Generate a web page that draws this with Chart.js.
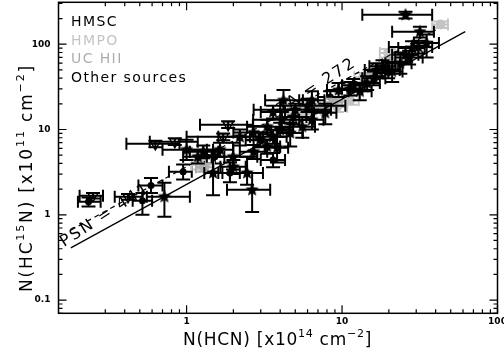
<!DOCTYPE html>
<html>
<head>
<meta charset="utf-8">
<script src="https://cdn.jsdelivr.net/npm/chart.js@4.4.1/dist/chart.umd.min.js"></script>
<style>
html, body { margin: 0; padding: 0; background: #fff; }
canvas { display: block; }
</style>
</head>
<body>
<canvas id="chart" width="504" height="358"></canvas>
<script>
// DATA: x = N(HCN) [1e14 cm-2], y = N(HC15N) [1e11 cm-2], with error bar limits
const hmsc = [
    { x: 0.234, y: 1.42, xmin: 0.20, xmax: 0.28, ymin: 1.25, ymax: 1.6 },
    { x: 0.52, y: 1.46, xmin: 0.45, xmax: 0.60, ymin: 1.0, ymax: 1.8 },
    { x: 0.59, y: 2.2, xmin: 0.49, xmax: 0.70, ymin: 1.8, ymax: 2.7 },
    { x: 0.95, y: 3.2, xmin: 0.77, xmax: 1.08, ymin: 2.6, ymax: 3.9 },
    { x: 1.9, y: 3.1, xmin: 1.6, xmax: 2.2, ymin: 2.4, ymax: 4.1 },
    { x: 1.52, y: 4.8, xmin: 1.3, xmax: 1.75, ymin: 4.0, ymax: 5.6 },
    { x: 3.6, y: 4.4, xmin: 3.0, xmax: 4.3, ymin: 3.6, ymax: 5.3 },
    { x: 8.4, y: 24, xmin: 7.0, xmax: 10, ymin: 20, ymax: 28 },
];
const hmpo = [
    { x: 1.22, y: 3.85, xmin: 1.08, xmax: 1.48, ymin: 3.4, ymax: 4.4 },
    { x: 4.9, y: 15.5, xmin: 4.1, xmax: 5.8, ymin: 13.5, ymax: 17.5 },
    { x: 5.4, y: 16, xmin: 4.5, xmax: 6.5, ymin: 14, ymax: 18 },
    { x: 6.25, y: 17, xmin: 5.4, xmax: 7.3, ymin: 15, ymax: 19.5 },
    { x: 9.3, y: 18.5, xmin: 7.2, xmax: 10.8, ymin: 16, ymax: 21 },
    { x: 11.3, y: 22, xmin: 10, xmax: 12.8, ymin: 19.5, ymax: 25 },
    { x: 13.7, y: 41, xmin: 12, xmax: 15.5, ymin: 36, ymax: 46 },
    { x: 19.8, y: 79, xmin: 17.5, xmax: 22, ymin: 70, ymax: 88 },
    { x: 43, y: 170, xmin: 38, xmax: 48, ymin: 155, ymax: 185 },
];
const ucHii = [
    { x: 1.3, y: 3.6, xmin: 1.15, xmax: 1.5, ymin: 3.2, ymax: 4.0 },
    { x: 7.25, y: 18, xmin: 6.3, xmax: 8.3, ymin: 16, ymax: 20 },
    { x: 8.8, y: 21, xmin: 7.8, xmax: 10, ymin: 19, ymax: 23 },
    { x: 12.8, y: 31.5, xmin: 11.2, xmax: 14.6, ymin: 28, ymax: 35 },
    { x: 16, y: 45, xmin: 14, xmax: 18.5, ymin: 40, ymax: 51 },
    { x: 21.4, y: 62, xmin: 19, xmax: 24, ymin: 55, ymax: 70 },
];
const otherStars = [
    { x: 0.72, y: 1.63, xmin: 0.555, xmax: 1.05, ymin: 0.95, ymax: 2.37 },
    { x: 1.48, y: 3.1, xmin: 1.3, xmax: 1.7, ymin: 1.7, ymax: 5.0 },
    { x: 1.0, y: 5.8, xmin: 0.70, xmax: 1.48, ymin: 4.4, ymax: 7.6 },
    { x: 1.18, y: 4.8, xmin: 0.95, xmax: 1.45, ymin: 4.0, ymax: 5.8 },
    { x: 1.28, y: 5.5, xmin: 1.05, xmax: 1.6, ymin: 4.6, ymax: 6.5 },
    { x: 1.64, y: 5.8, xmin: 1.35, xmax: 2.0, ymin: 4.8, ymax: 7.0 },
    { x: 1.99, y: 4.8, xmin: 1.35, xmax: 2.85, ymin: 3.4, ymax: 7.0 },
    { x: 2.0, y: 3.65, xmin: 1.65, xmax: 2.4, ymin: 3.0, ymax: 4.4 },
    { x: 2.45, y: 3.1, xmin: 1.9, xmax: 3.1, ymin: 2.25, ymax: 4.8 },
    { x: 2.64, y: 1.96, xmin: 1.82, xmax: 3.45, ymin: 1.08, ymax: 3.1 },
    { x: 2.2, y: 8.2, xmin: 1.6, xmax: 3.1, ymin: 6.5, ymax: 10 },
    { x: 2.69, y: 9.2, xmin: 2.0, xmax: 3.5, ymin: 7.5, ymax: 11 },
    { x: 2.7, y: 5.5, xmin: 2.2, xmax: 3.3, ymin: 4.5, ymax: 6.6 },
    { x: 2.97, y: 7.6, xmin: 2.4, xmax: 3.7, ymin: 6.2, ymax: 9.2 },
    { x: 3.3, y: 10.8, xmin: 2.45, xmax: 4.85, ymin: 8.8, ymax: 13 },
    { x: 3.3, y: 6.3, xmin: 2.7, xmax: 4.0, ymin: 5.2, ymax: 7.6 },
    { x: 3.82, y: 6.1, xmin: 3.2, xmax: 4.5, ymin: 4.1, ymax: 8.2 },
    { x: 3.6, y: 8.2, xmin: 2.9, xmax: 4.4, ymin: 6.8, ymax: 9.8 },
    { x: 4.0, y: 9.9, xmin: 3.3, xmax: 4.8, ymin: 8.2, ymax: 12 },
    { x: 4.1, y: 13, xmin: 2.68, xmax: 6.5, ymin: 10.5, ymax: 16 },
    { x: 3.6, y: 16, xmin: 3.0, xmax: 4.3, ymin: 13.5, ymax: 19 },
    { x: 4.2, y: 22, xmin: 3.2, xmax: 5.6, ymin: 17, ymax: 29 },
    { x: 4.64, y: 9.1, xmin: 3.8, xmax: 5.6, ymin: 6.3, ymax: 12 },
    { x: 4.85, y: 14, xmin: 4.0, xmax: 5.9, ymin: 11.5, ymax: 17 },
    { x: 5.0, y: 17, xmin: 2.7, xmax: 8.5, ymin: 14, ymax: 20 },
    { x: 5.55, y: 10.8, xmin: 4.6, xmax: 6.7, ymin: 8, ymax: 14 },
    { x: 6.0, y: 19, xmin: 4.0, xmax: 10.5, ymin: 16, ymax: 23 },
    { x: 6.4, y: 13, xmin: 5.3, xmax: 7.6, ymin: 10, ymax: 16.5 },
    { x: 6.4, y: 22, xmin: 5.3, xmax: 7.7, ymin: 17, ymax: 28 },
    { x: 7.8, y: 15.7, xmin: 6.6, xmax: 9.2, ymin: 11.5, ymax: 20 },
    { x: 9.5, y: 29, xmin: 8, xmax: 11.3, ymin: 24, ymax: 35 },
    { x: 11.3, y: 30, xmin: 9.5, xmax: 13.5, ymin: 25, ymax: 36 },
    { x: 11.8, y: 33, xmin: 10, xmax: 14, ymin: 28, ymax: 39 },
    { x: 13, y: 28, xmin: 11, xmax: 15.5, ymin: 22, ymax: 34 },
    { x: 14.5, y: 35, xmin: 12, xmax: 17.5, ymin: 29, ymax: 42 },
    { x: 16, y: 40, xmin: 13.5, xmax: 19, ymin: 33, ymax: 48 },
    { x: 16.8, y: 50, xmin: 14, xmax: 20, ymin: 42, ymax: 60 },
    { x: 18.2, y: 55, xmin: 15, xmax: 22, ymin: 46, ymax: 65 },
    { x: 19.8, y: 50, xmin: 16.5, xmax: 23.5, ymin: 40, ymax: 62 },
    { x: 21, y: 48, xmin: 18, xmax: 24.5, ymin: 36, ymax: 60 },
    { x: 23.7, y: 60, xmin: 19, xmax: 28, ymin: 45, ymax: 80 },
    { x: 25.6, y: 75, xmin: 21, xmax: 31, ymin: 62, ymax: 90 },
    { x: 27, y: 70, xmin: 22, xmax: 33, ymin: 58, ymax: 84 },
    { x: 28.2, y: 90, xmin: 23, xmax: 34, ymin: 75, ymax: 108 },
    { x: 31, y: 93, xmin: 20, xmax: 38, ymin: 78, ymax: 110 },
    { x: 35, y: 103, xmin: 29, xmax: 42, ymin: 70, ymax: 130 },
    { x: 31.7, y: 140, xmin: 21, xmax: 39, ymin: 120, ymax: 160 },
    { x: 25.6, y: 221, xmin: 13.5, xmax: 38, ymin: 200, ymax: 240 },
];
const otherLimits = [
    { x: 0.25, y: 1.67, xmin: 0.205, xmax: 0.29, ymin: 1.55, ymax: 1.8 },
    { x: 0.42, y: 1.63, xmin: 0.345, xmax: 0.52, ymin: 1.5, ymax: 1.75 },
    { x: 0.63, y: 6.8, xmin: 0.41, xmax: 0.90, ymin: 6.2, ymax: 7.4 },
    { x: 0.84, y: 7.2, xmin: 0.58, xmax: 1.18, ymin: 6.6, ymax: 7.9 },
    { x: 1.72, y: 8.2, xmin: 1.0, xmax: 2.56, ymin: 7.5, ymax: 9.0 },
    { x: 1.85, y: 11.4, xmin: 1.22, xmax: 2.67, ymin: 10.4, ymax: 12.5 },
];
// reference ratio lines (end points)
const psnLineX = [0.18, 62];
const psnLineY = [0.41, 140.6];
const taLineX = [0.18, 40];
const taLineY = [0.66, 147];

const xTickLabels = [1, 10, 100];
const yTickLabels = [0.1, 1, 10, 100];

const legendItems = [
    { text: "HMSC", color: "#000000" },
    { text: "HMPO", color: "#c4c4c4" },
    { text: "UC HII", color: "#adadad" },
    { text: "Other sources", color: "#000000" },
];

// filled star marker
function makeStar(r, color) {
    const c = document.createElement("canvas");
    c.width = c.height = 2 * r + 2;
    const g = c.getContext("2d");
    g.beginPath();
    for (let i = 0; i < 10; i++) {
        const a = -Math.PI / 2 + (i * Math.PI) / 5;
        const rr = i % 2 ? r * 0.45 : r;
        g.lineTo(r + 1 + rr * Math.cos(a), r + 1 + rr * Math.sin(a));
    }
    g.closePath();
    g.fillStyle = color;
    g.fill();
    return c;
}
const starBlack = makeStar(7, "#000");

// draws text with superscript pieces, stretched to a target width
function drawRich(ctx, parts, x, y, size, target) {
    const sup = size * 0.65;
    const n = parts.reduce((s, p) => s + p[0].length, 0);
    ctx.letterSpacing = "0px";
    let w = 0;
    parts.forEach(p => {
        ctx.font = (p[1] ? sup : size) + "px 'DejaVu Sans'";
        w += ctx.measureText(p[0]).width;
    });
    const ls = target ? (target - w) / n : 0;
    ctx.letterSpacing = ls + "px";
    let cx = x - (w + ls * n) / 2;
    parts.forEach(p => {
        ctx.font = (p[1] ? sup : size) + "px 'DejaVu Sans'";
        ctx.fillText(p[0], cx, p[1] ? y - size * 0.45 : y);
        cx += ctx.measureText(p[0]).width;
    });
    ctx.letterSpacing = "0px";
}

// error bars drawn right before each dataset's markers
const errorBars = {
    id: "errorBars",
    beforeDatasetDraw(chart, args) {
        const ds = chart.data.datasets[args.index];
        if (!ds.barColor) return;
        const { ctx, chartArea: a, scales: { x, y } } = chart;
        ctx.save();
        ctx.beginPath();
        ctx.rect(a.left, a.top, a.width, a.height);
        ctx.clip();
        ctx.strokeStyle = ds.barColor;
        ctx.lineWidth = 2;
        ds.data.forEach(p => {
            const px = x.getPixelForValue(p.x), py = y.getPixelForValue(p.y);
            const x0 = x.getPixelForValue(p.xmin), x1 = x.getPixelForValue(p.xmax);
            const y0 = y.getPixelForValue(p.ymin), y1 = y.getPixelForValue(p.ymax);
            ctx.beginPath();
            ctx.moveTo(x0, py); ctx.lineTo(x1, py);
            ctx.moveTo(x0, py - 6); ctx.lineTo(x0, py + 6);
            ctx.moveTo(x1, py - 6); ctx.lineTo(x1, py + 6);
            ctx.moveTo(px, y0); ctx.lineTo(px, y1);
            ctx.moveTo(px - 7, y0); ctx.lineTo(px + 7, y0);
            ctx.moveTo(px - 7, y1); ctx.lineTo(px + 7, y1);
            ctx.stroke();
        });
        ctx.restore();
    },
};

// line labels, legend text and axis titles
const texts = {
    id: "texts",
    beforeDatasetsDraw(chart) {
        const { ctx } = chart;
        ctx.save();
        ctx.fillStyle = "#000";
        ctx.font = "16px 'DejaVu Sans'";
        ctx.letterSpacing = "2px";
        ctx.translate(64, 247);
        ctx.rotate((-33 * Math.PI) / 180);
        ctx.fillText("PSN = 441", 0, 0);
        ctx.restore();
        ctx.save();
        ctx.fillStyle = "#000";
        ctx.font = "16px 'DejaVu Sans'";
        ctx.letterSpacing = "2px";
        ctx.translate(282, 114);
        ctx.rotate((-33 * Math.PI) / 180);
        ctx.fillText("TA = 272", 0, 0);
        ctx.restore();
    },
    afterDraw(chart) {
        const { ctx } = chart;
        ctx.save();
        ctx.textBaseline = "alphabetic";
        ctx.font = "14px 'DejaVu Sans'";
        ctx.letterSpacing = "1.4px";
        legendItems.forEach((it, i) => {
            ctx.fillStyle = it.color;
            ctx.fillText(it.text, 71, 26 + i * 18.5);
        });
        ctx.fillStyle = "#000";
        drawRich(ctx, [["N(HCN) [x10", 0], ["14", 1], [" cm", 0], ["\u22122", 1], ["]", 0]], 277.5, 345, 17, 189);
        ctx.translate(32, 178);
        ctx.rotate(-Math.PI / 2);
        drawRich(ctx, [["N(HC", 0], ["15", 1], ["N) [x10", 0], ["11", 1], [" cm", 0], ["\u22122", 1], ["]", 0]], 0, 0, 17, 228);
        ctx.restore();
    },
};

// frame with inward major and minor ticks on all four sides
const frameTicks = {
    id: "frameTicks",
    afterDraw(chart) {
        const { ctx, chartArea: a, scales: { x, y } } = chart;
        ctx.save();
        ctx.strokeStyle = "#000";
        ctx.lineWidth = 1.5;
        ctx.strokeRect(a.left, a.top, a.width, a.height);
        ctx.lineWidth = 1.2;
        ctx.beginPath();
        const mark = (scale, horiz) => {
            scale.ticks.forEach(t => {
                const v = t.value;
                const m = v / Math.pow(10, Math.floor(Math.log10(v) + 1e-9));
                if (Math.abs(m - Math.round(m)) > 1e-6) return;
                const len = Math.round(m) === 1 ? 8 : 4;
                const p = scale.getPixelForValue(v);
                if (horiz) {
                    ctx.moveTo(p, a.bottom); ctx.lineTo(p, a.bottom - len);
                    ctx.moveTo(p, a.top); ctx.lineTo(p, a.top + len);
                } else {
                    ctx.moveTo(a.left, p); ctx.lineTo(a.left + len, p);
                    ctx.moveTo(a.right, p); ctx.lineTo(a.right - len, p);
                }
            });
        };
        mark(x, true);
        mark(y, false);
        ctx.stroke();
        ctx.restore();
    },
};

const ctx = document.getElementById("chart").getContext("2d");

const data = {
    datasets: [
        {
            type: "line",
            data: psnLineX.map((v, i) => ({ x: v, y: psnLineY[i] })),
            borderColor: "#000",
            borderWidth: 1.3,
            pointRadius: 0,
        },
        {
            type: "line",
            data: taLineX.map((v, i) => ({ x: v, y: taLineY[i] })),
            borderColor: "#000",
            borderWidth: 1.2,
            borderDash: [5, 4],
            pointRadius: 0,
        },
        {
            label: "Other sources",
            data: otherLimits,
            barColor: "#000",
            pointStyle: "triangle",
            rotation: 180,
            radius: 6,
            borderWidth: 1.5,
            borderColor: "#000",
            backgroundColor: "rgba(0,0,0,0)",
        },
        {
            label: "Other sources",
            data: otherStars,
            barColor: "#000",
            pointStyle: starBlack,
        },
        {
            label: "UC HII",
            data: ucHii,
            barColor: "#adadad",
            pointStyle: "circle",
            radius: 5,
            borderWidth: 0,
            backgroundColor: "#adadad",
        },
        {
            label: "HMPO",
            data: hmpo,
            barColor: "#c4c4c4",
            pointStyle: "circle",
            radius: 5,
            borderWidth: 0,
            backgroundColor: "#c4c4c4",
        },
        {
            label: "HMSC",
            data: hmsc,
            barColor: "#000",
            pointStyle: "circle",
            radius: 3.5,
            borderWidth: 0,
            backgroundColor: "#000",
        },
    ],
};

const tickFont = { family: "'DejaVu Sans'", size: 9, weight: "bold" };

const config = {
    type: "scatter",
    data: data,
    options: {
        responsive: false,
        animation: false,
        devicePixelRatio: 1,
        layout: { autoPadding: false, padding: { top: 2.3, right: 6.5, left: 0, bottom: 0 } },
        plugins: {
            legend: { display: false },
            tooltip: { enabled: false },
        },
        scales: {
            x: {
                type: "logarithmic",
                min: 0.15,
                max: 100,
                grid: { display: false, drawTicks: false, tickLength: 0 },
                border: { display: false },
                ticks: {
                    autoSkip: false,
                    maxRotation: 0,
                    padding: 3,
                    color: "#000",
                    font: tickFont,
                    callback: v => (xTickLabels.includes(v) ? String(v) : ""),
                },
                afterFit: s => {
                    s.height = 44.7;
                    s.paddingLeft = 0;
                    s.paddingRight = 0;
                },
            },
            y: {
                type: "logarithmic",
                min: 0.07,
                max: 310,
                grid: { display: false, drawTicks: false, tickLength: 0 },
                border: { display: false },
                ticks: {
                    autoSkip: false,
                    padding: 8,
                    color: "#000",
                    font: tickFont,
                    callback: v => (yTickLabels.includes(v) ? String(v) : ""),
                },
                afterFit: s => {
                    s.width = 58.5;
                    s.paddingTop = 0;
                    s.paddingBottom = 0;
                },
            },
        },
    },
    plugins: [errorBars, texts, frameTicks],
};

const myChart = new Chart(ctx, config);
</script>
</body>
</html>
